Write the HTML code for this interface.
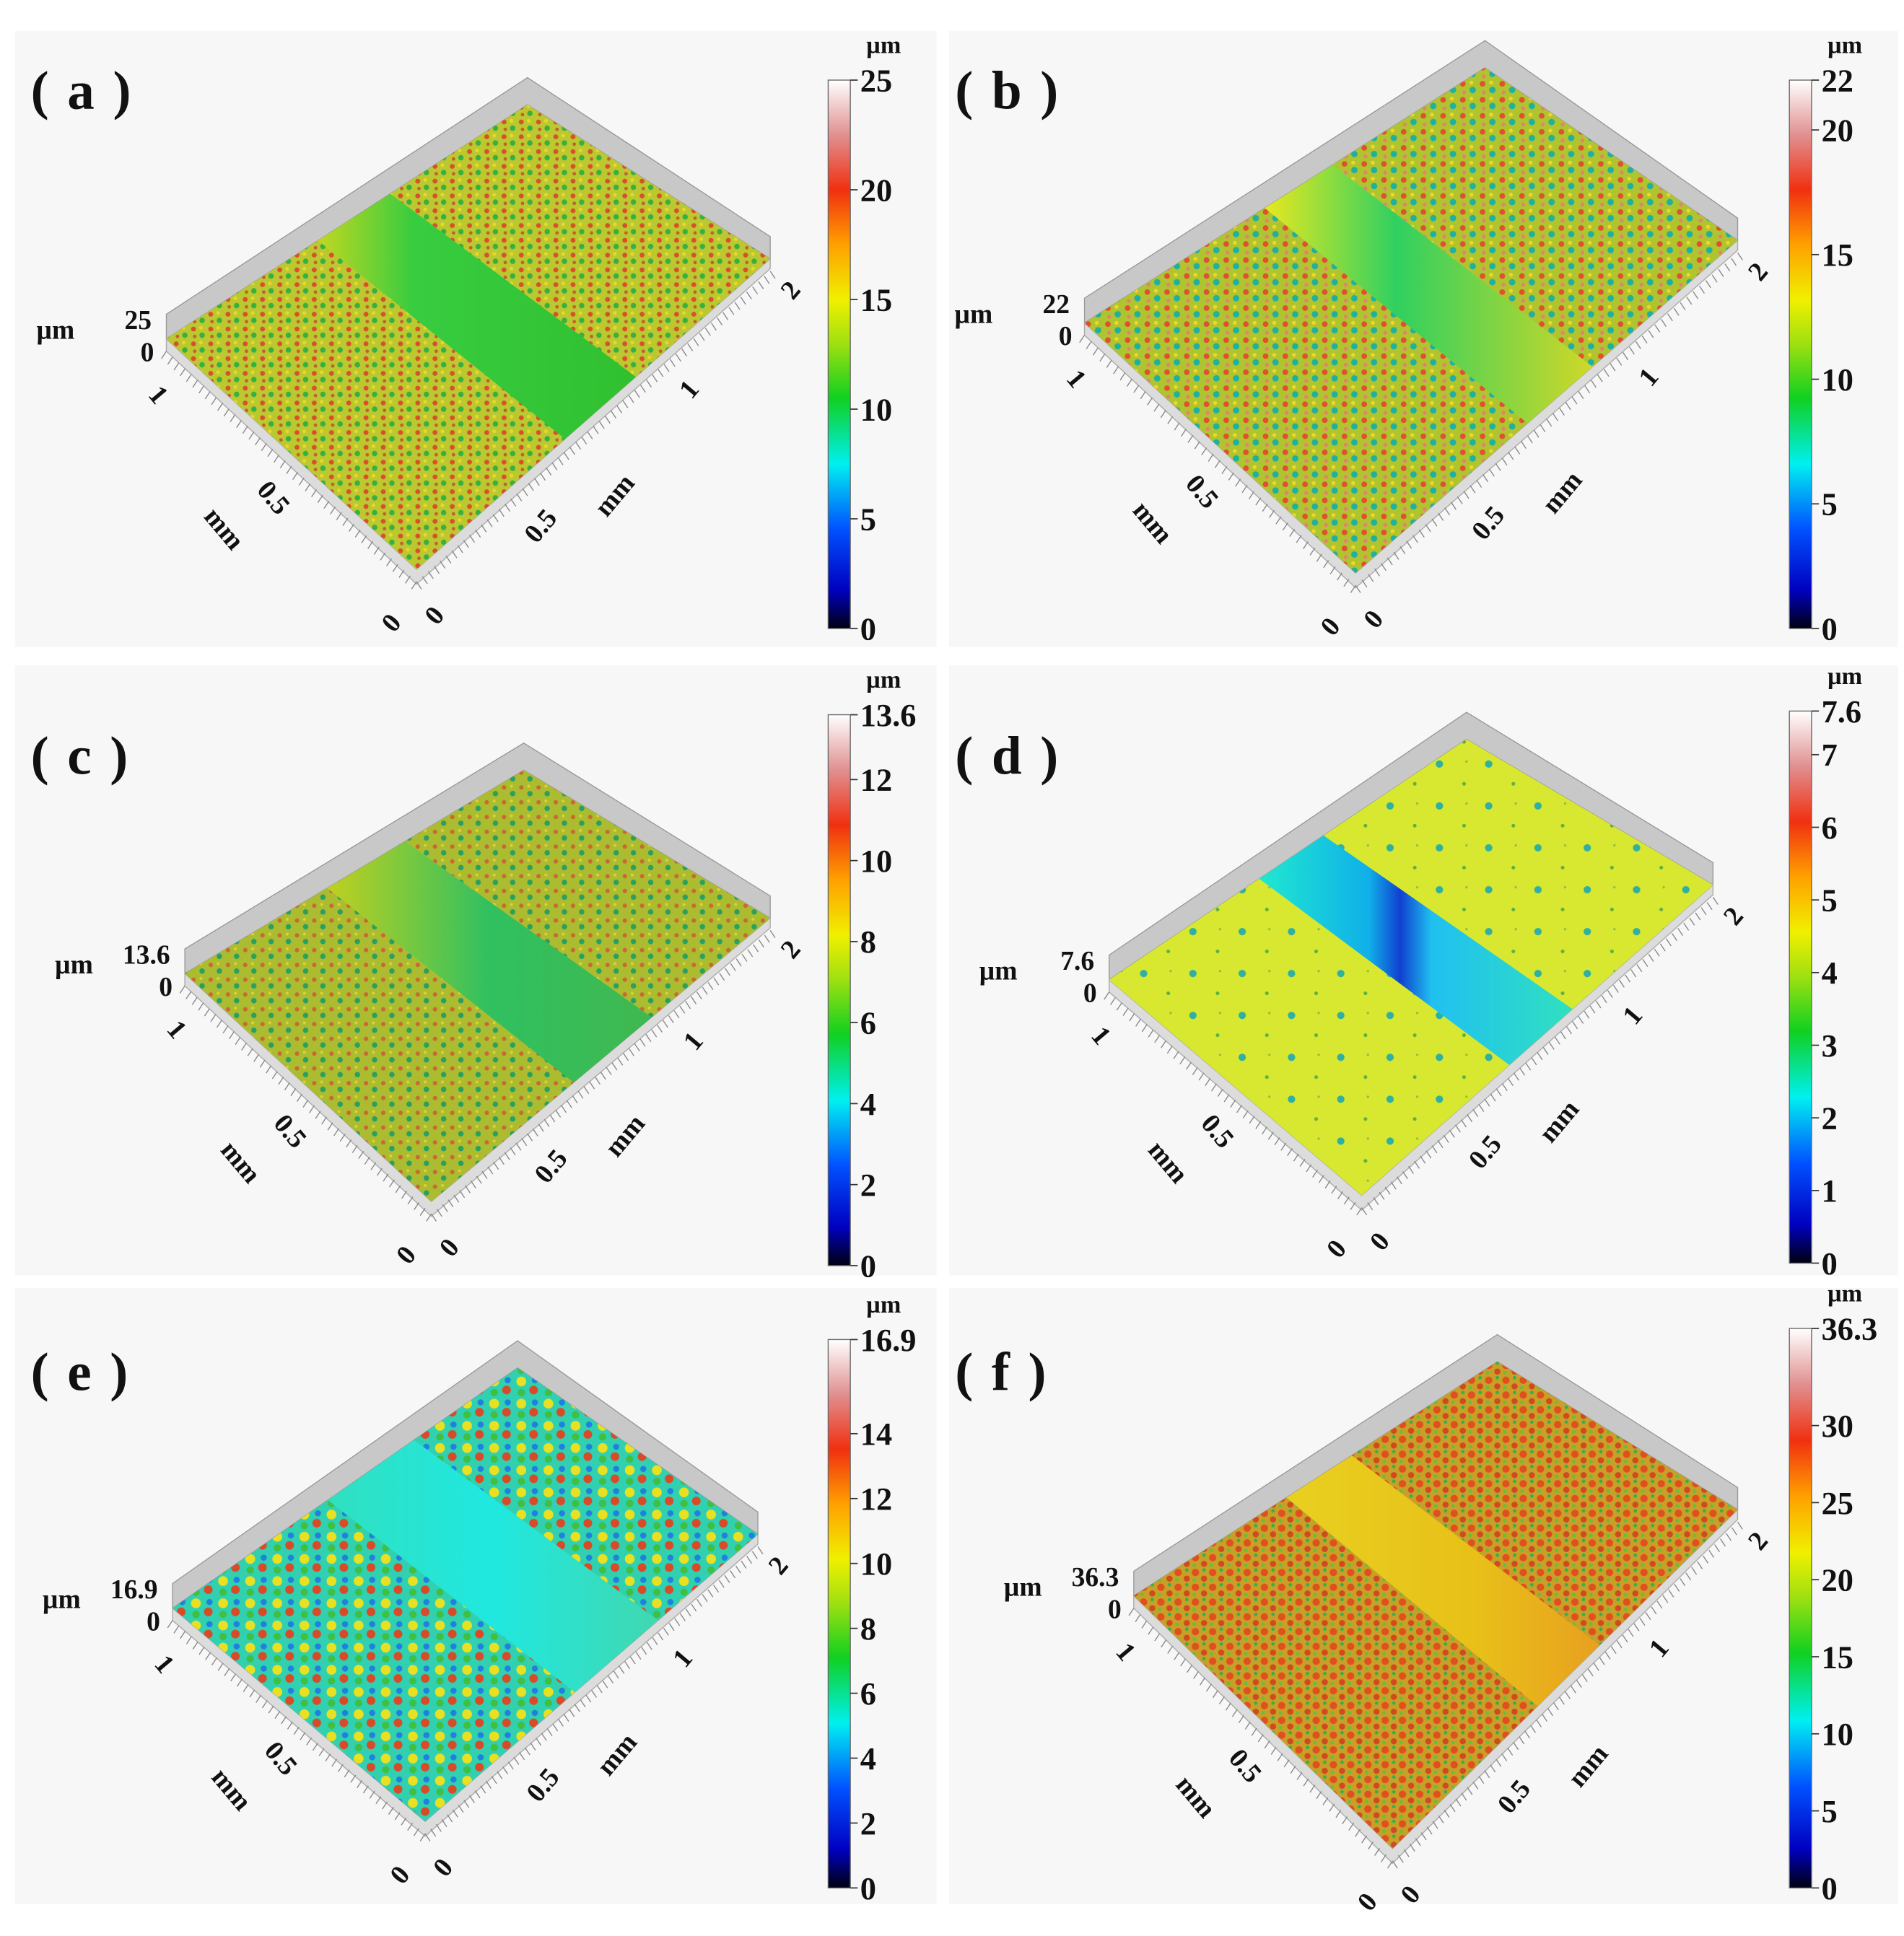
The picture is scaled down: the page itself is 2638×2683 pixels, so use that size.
<!DOCTYPE html>
<html><head><meta charset="utf-8">
<style>
html,body{margin:0;padding:0;background:#fff;}
svg{display:block;font-family:"Liberation Serif",serif;font-weight:bold;}
</style></head>
<body>
<svg id="fig" width="2638" height="2683" viewBox="0 0 1545 1571" preserveAspectRatio="none" xmlns="http://www.w3.org/2000/svg">
<defs>
<linearGradient id="cbar" x1="0" y1="1" x2="0" y2="0">
<stop offset="0" stop-color="#000010"/><stop offset="0.07" stop-color="#0000c0"/><stop offset="0.18" stop-color="#0050ff"/>
<stop offset="0.3" stop-color="#00f0f0"/><stop offset="0.42" stop-color="#10d020"/><stop offset="0.52" stop-color="#a0e010"/>
<stop offset="0.6" stop-color="#f0f000"/><stop offset="0.7" stop-color="#ffa000"/><stop offset="0.8" stop-color="#f03010"/>
<stop offset="0.9" stop-color="#e09090"/><stop offset="1" stop-color="#ffffff"/></linearGradient>
<pattern id="pa" width="14" height="12" patternUnits="userSpaceOnUse"><rect width="14" height="12" fill="#bcc830"/><circle cx="3" cy="3" r="2" fill="#d8502a"/><circle cx="10" cy="8" r="2.2" fill="#38b040"/><circle cx="9" cy="2" r="1.5" fill="#e8d828"/><circle cx="4" cy="9" r="1.4" fill="#c06030"/></pattern>
<pattern id="pb" width="16" height="13" patternUnits="userSpaceOnUse"><rect width="16" height="13" fill="#b0c430"/><circle cx="3" cy="3" r="2.3" fill="#e05030"/><circle cx="11" cy="8" r="2.6" fill="#20b0a0"/><circle cx="10" cy="2" r="1.6" fill="#f0d820"/><circle cx="4" cy="10" r="1.6" fill="#e88070"/></pattern>
<pattern id="pc" width="14" height="12" patternUnits="userSpaceOnUse"><rect width="14" height="12" fill="#acbc30"/><circle cx="3" cy="3" r="1.8" fill="#c86a30"/><circle cx="10" cy="8" r="2.2" fill="#2aa060"/><circle cx="9" cy="2" r="1.2" fill="#e0d030"/></pattern>
<pattern id="pd" width="40" height="34" patternUnits="userSpaceOnUse"><rect width="40" height="34" fill="#d8e830"/><circle cx="8" cy="8" r="3" fill="#30b0a0"/><circle cx="28" cy="24" r="1.5" fill="#60b040"/><circle cx="30" cy="6" r="1" fill="#90c040"/></pattern>
<pattern id="pe" width="22" height="18" patternUnits="userSpaceOnUse"><rect width="22" height="18" fill="#30d0b0"/><circle cx="5" cy="5" r="4" fill="#e8e020"/><circle cx="15" cy="12" r="3.5" fill="#d84a28"/><circle cx="16" cy="4" r="2.5" fill="#2080e0"/><circle cx="5" cy="14" r="3" fill="#40c040"/></pattern>
<pattern id="pf" width="14" height="12" patternUnits="userSpaceOnUse"><rect width="14" height="12" fill="#c8a028"/><circle cx="4" cy="4" r="3" fill="#e0501e"/><circle cx="11" cy="9" r="2.5" fill="#d04a20"/><circle cx="11" cy="2" r="1.4" fill="#30b050"/><circle cx="3" cy="10" r="1.4" fill="#60c040"/></pattern>
<linearGradient id="ta" x1="0" y1="0" x2="1" y2="0"><stop offset="0" stop-color="#c0d820"/><stop offset="0.3" stop-color="#38cc40"/><stop offset="1" stop-color="#30c030"/></linearGradient>
<linearGradient id="tb" x1="0" y1="0" x2="1" y2="0"><stop offset="0" stop-color="#e8e820"/><stop offset="0.4" stop-color="#30d060"/><stop offset="1" stop-color="#d0d828"/></linearGradient>
<linearGradient id="tc" x1="0" y1="0" x2="1" y2="0"><stop offset="0" stop-color="#c0d020"/><stop offset="0.5" stop-color="#30c060"/><stop offset="1" stop-color="#40b850"/></linearGradient>
<linearGradient id="td" x1="0" y1="0" x2="1" y2="0"><stop offset="0" stop-color="#20e8d0"/><stop offset="0.35" stop-color="#10b0e8"/><stop offset="0.45" stop-color="#1040d0"/><stop offset="0.55" stop-color="#20c0f0"/><stop offset="1" stop-color="#30e0c0"/></linearGradient>
<linearGradient id="te" x1="0" y1="0" x2="1" y2="0"><stop offset="0" stop-color="#30e0c0"/><stop offset="0.5" stop-color="#20e8e0"/><stop offset="1" stop-color="#40d8b0"/></linearGradient>
<linearGradient id="tf" x1="0" y1="0" x2="1" y2="0"><stop offset="0" stop-color="#e8d020"/><stop offset="0.6" stop-color="#e8c018"/><stop offset="1" stop-color="#e8a020"/></linearGradient>
</defs>
<g id="root"></g>
</svg>
<script>
const NS="http://www.w3.org/2000/svg";
// panel data
const panelLetters=["a","b","c","d","e","f"];
const zMax=[25,22,13.6,7.6,16.9,36.3];
const zMaxLabels=["25","22","13.6","7.6","16.9","36.3"];
const cbTicksA=[0,5,10,15,20,25];
const cbTicksB=[0,5,10,15,20,22];
const cbTicksC=[0,2,4,6,8,10,12,13.6];
const cbTicksD=[0,1,2,3,4,5,6,7,7.6];
const cbTicksE=[0,2,4,6,8,10,12,14,16.9];
const cbTicksF=[0,5,10,15,20,25,30,36.3];
const cbTicks=[cbTicksA,cbTicksB,cbTicksC,cbTicksD,cbTicksE,cbTicksF];
const trackStart=[0.42,0.45,0.42,0.42,0.45,0.42];
const trackEnd=[0.62,0.62,0.65,0.6,0.7,0.6];
const xLabels=["0","0.5","1","2"];

// layout (not data)
const L=[
 {bg:[12,25,748,500],cb:[672,65,18,445],lab:[35,70],C:[[135,275],[428,85],[625,210],[338,462]]},
 {bg:[770,25,770,500],cb:[1452,65,18,445],lab:[785,70],C:[[880,262],[1205,55],[1410,195],[1100,465]]},
 {bg:[12,540,748,495],cb:[672,580,18,447],lab:[35,610],C:[[150,790],[425,625],[625,745],[350,975]]},
 {bg:[770,540,770,495],cb:[1452,577,18,448],lab:[785,610],C:[[900,795],[1190,600],[1390,718],[1105,970]]},
 {bg:[12,1045,748,500],cb:[672,1087,18,445],lab:[35,1110],C:[[140,1305],[420,1110],[615,1245],[345,1478]]},
 {bg:[770,1045,770,500],cb:[1452,1078,18,454],lab:[785,1110],C:[[920,1295],[1215,1105],[1410,1225],[1130,1500]]}
];
const root=document.getElementById('root');
function el(tag,attrs,parent){const e=document.createElementNS(NS,tag);for(const k in attrs)e.setAttribute(k,attrs[k]);(parent||root).appendChild(e);return e;}
function lerp(a,b,t){return [a[0]+(b[0]-a[0])*t,a[1]+(b[1]-a[1])*t];}
function pts(a){return a.map(p=>p[0].toFixed(1)+","+p[1].toFixed(1)).join(" ");}
function txt(s,x,y,size,rot,anchor,parent,name){
 const t=el('text',{x:x,y:y,'font-size':size,'text-anchor':anchor||'middle',fill:'#111'},parent);
 if(rot)t.setAttribute('transform',`rotate(${rot} ${x} ${y})`);
 t.textContent=s;
 
 
 return t;}

panelLetters.forEach((letter,i)=>{
 const P=L[i];
 const g=el('g',{});
 
 
 const bg=el('rect',{x:P.bg[0],y:P.bg[1],width:P.bg[2],height:P.bg[3],fill:'#f7f7f7'},g);
 
 
 const pl=txt('( '+letter+' )',P.lab[0]-10,P.lab[1]+18,44,0,'start',g,'panel-label');
 pl.setAttribute('letter-spacing','2');
 const [Lc,Bc,Rc,Fc]=P.C;
 const wall=el('polygon',{points:pts([Lc,Bc,Rc,[Rc[0],Rc[1]-18],[Bc[0],Bc[1]-22],[Lc[0],Lc[1]-20]]),fill:'#c8c8c8',stroke:'#999','stroke-width':0.8},g);
 
 
 const fw=el('polygon',{points:pts([Lc,Fc,Rc,[Rc[0],Rc[1]+8],[Fc[0],Fc[1]+12],[Lc[0],Lc[1]+10]]),fill:'#dcdcdc',stroke:'#aaa','stroke-width':0.8},g);
 
 
 const surf=el('polygon',{points:pts([Lc,Bc,Rc,Fc]),fill:'url(#p'+letter+')'},g);
 
 
 const a1=lerp(Lc,Bc,trackStart[i]),a2=lerp(Lc,Bc,trackEnd[i]);
 const b1=lerp(Fc,Rc,trackStart[i]),b2=lerp(Fc,Rc,trackEnd[i]);
 const tr=el('polygon',{points:pts([a1,a2,b2,b1]),fill:'url(#t'+letter+')'},g);
 
 
 for(let k=0;k<=40;k++){const p=lerp(Lc,Fc,k/40);el('line',{x1:p[0],y1:p[1]+10,x2:p[0]-4,y2:p[1]+16,stroke:'#888','stroke-width':0.8},g);}
 for(let k=0;k<=60;k++){const p=lerp(Fc,Rc,k/60);el('line',{x1:p[0],y1:p[1]+10,x2:p[0]+4,y2:p[1]+16,stroke:'#888','stroke-width':0.8},g);}
 txt('µm',Lc[0]-90,Lc[1],22,0,'middle',g,'z-axis-title');
 txt(zMaxLabels[i],Lc[0]-12,Lc[1]-8,22,0,'end',g,'z-axis-max');
 txt('0',Lc[0]-10,Lc[1]+18,22,0,'end',g,'z-axis-zero');
 txt('1',Lc[0]-12,Lc[1]+50,22,50,'middle',g,'y-tick-1');
 const m=lerp(Lc,Fc,0.5);
 txt('0.5',m[0]-20,m[1]+40,22,50,'middle',g,'y-tick-0.5');
 txt('mm',m[0]-60,m[1]+65,22,50,'middle',g,'y-axis-title');
 txt(xLabels[0],Fc[0]-15,Fc[1]+48,22,-50,'middle',g,'y-tick-0');
 txt(xLabels[0],Fc[0]+20,Fc[1]+42,22,-50,'middle',g,'x-tick-0');
 const r1=lerp(Fc,Rc,0.3),r2=lerp(Fc,Rc,0.72);
 txt(xLabels[1],r1[0]+20,r1[1]+45,22,-50,'middle',g,'x-tick-0.5');
 txt('mm',r1[0]+80,r1[1]+20,22,-50,'middle',g,'x-axis-title');
 txt(xLabels[2],r2[0]+20,r2[1]+40,22,-50,'middle',g,'x-tick-1');
 txt(xLabels[3],Rc[0]+22,Rc[1]+30,22,-50,'middle',g,'x-tick-2');
 const [cx,cy,cw,ch]=P.cb;
 const cb=el('rect',{x:cx,y:cy,width:cw,height:ch,fill:'url(#cbar)',stroke:'#666','stroke-width':0.8},g);
 
 
 txt('µm',cx+45,cy-22,20,0,'middle',g,'colorbar-unit');
 const yOf=v=>cy+ch-v/zMax[i]*ch;
 cbTicks[i].forEach(v=>{
  const y=yOf(v);
  el('line',{x1:cx+cw,y1:y,x2:cx+cw+6,y2:y,stroke:'#333','stroke-width':1},g);
  txt(String(v),cx+cw+8,y+9,26,0,'start',g,'colorbar-tick');
 });
});
</script>
</body></html>
